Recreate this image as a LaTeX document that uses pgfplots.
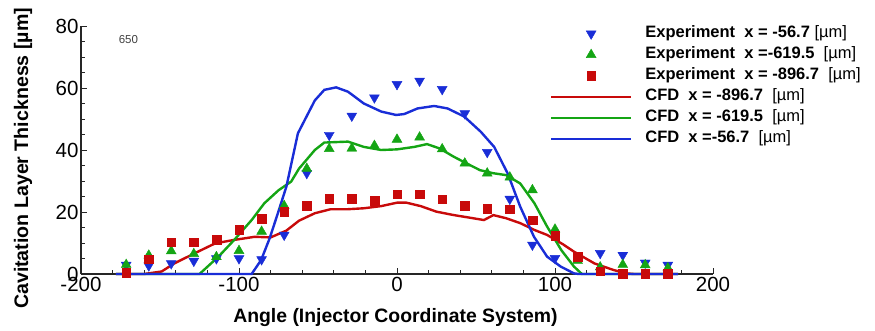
\documentclass[border=0pt]{standalone}
\usepackage{pgfplots}
\pgfplotsset{compat=1.18}
\usepackage{fontspec}
\setmainfont{Liberation Sans}
\definecolor{cblue}{RGB}{25,45,215}
\definecolor{cgreen}{RGB}{20,165,20}
\definecolor{cred}{RGB}{200,10,10}
\pgfplotsset{
 markleg/.style={legend image code/.code={\draw[mark repeat=2,mark phase=2,##1] plot coordinates {(0pt,0pt) (40pt,0pt) (80pt,0pt)};}},
 lineleg/.style={legend image code/.code={\draw[##1] (0pt,0pt) -- (80pt,0pt);}},
}
\begin{document}
\begin{tikzpicture}[x=1pt,y=1pt]
\path[use as bounding box] (0,0) rectangle (875,331);
\begin{axis}[
 at={(81pt,57pt)}, anchor=south west, scale only axis, width=632pt, height=248pt,
 xmin=-200, xmax=200, ymin=0, ymax=80,
 axis lines*=left, clip=false,
 axis line style={line width=1.2pt, black!85},
 xtick={-200,-100,0,100,200}, ytick={0,20,40,60,80},
 minor x tick num=4, minor y tick num=3,
 major tick length=6pt, minor tick length=4pt,
 every tick/.style={black!85, line width=0.9pt},
 tick label style={font=\fontsize{20.5}{21}\selectfont},
 yticklabel style={xshift=1pt},
 /pgf/number format/assume math mode=true,
 xlabel={Angle (Injector Coordinate System)},
 ylabel={Cavitation Layer Thickness [µm]},
 xlabel style={font=\bfseries\fontsize{19.4}{20}\selectfont, at={(axis description cs:0.4976,-0.175)}, anchor=center},
 ylabel style={font=\bfseries\fontsize{19.6}{20}\selectfont, at={(axis description cs:-0.0918,0.466)}, anchor=center},
 legend style={draw=none, fill=none, inner sep=0pt, outer sep=0pt,
   at={(axis cs:96.8,80)}, anchor=north west,
   font=\bfseries\fontsize{16.5}{18}\selectfont,
   row sep=5.5pt, column sep=13pt,
   nodes={inner sep=0pt, text height=12pt, text depth=3.5pt}},
 legend cell align=left,
]
\addplot[only marks, mark=triangle*, mark options={rotate=180}, mark size=5.7pt, color=cblue, markleg] coordinates {
(-171.4,2.9) (-157.1,2.7) (-142.9,3.4) (-128.6,4.2) (-114.3,5.0) (-100,5.0) (-85.7,4.7) (-71.4,12.6)
(-57.1,32.5) (-42.9,44.8) (-28.6,51.0) (-14.3,56.9) (0,61.2) (14.3,62.3) (28.6,59.6) (42.9,51.8)
(57.1,39.3) (71.4,24.2) (85.7,9.4) (100,5.1) (128.6,6.7) (142.9,6.1) (157.1,3.6) (171.4,2.9)};
\addlegendentry{Experiment\ \ x = -56.7 {\mdseries[µm]}}
\addplot[only marks, mark=triangle*, mark size=5.7pt, color=cgreen, markleg] coordinates {
(-171.4,3.0) (-157.1,6.0) (-142.9,7.4) (-128.6,6.5) (-114.3,5.5) (-100,7.5) (-85.7,13.7) (-71.4,22.0)
(-57.1,34.0) (-42.9,40.4) (-28.6,40.5) (-14.3,41.4) (0,43.4) (14.3,44.1) (28.6,40.3) (42.9,35.7)
(57.1,32.5) (71.4,31.2) (85.7,27.1) (100,14.4) (114.3,4.3) (128.6,2.2) (142.9,3.0) (157.1,2.9) (171.4,1.9)};
\addlegendentry{Experiment\ \ x =-619.5\ \ {\mdseries[µm]}}
\addplot[only marks, mark=square*, mark size=4.3pt, color=cred, markleg] coordinates {
(-171.4,0.5) (-157.1,4.8) (-142.9,10.3) (-128.6,10.3) (-114.3,11.0) (-100,14.2) (-85.7,17.8) (-71.4,20.1)
(-57.1,22.0) (-42.9,24.2) (-28.6,24.2) (-14.3,23.7) (0,25.7) (14.3,25.7) (28.6,24.1) (42.9,22.0)
(57.1,21.0) (71.4,20.9) (85.7,17.4) (100,12.3) (114.3,5.5) (128.6,0.9) (142.9,0) (157.1,0) (171.4,0)};
\addlegendentry{Experiment\ \ x = -896.7\ \ {\mdseries[µm]}}
\addplot[color=cred, line width=2.4pt, lineleg] coordinates {
(-178,0) (-160,0) (-149,0.8) (-141,3.4) (-128,6.7) (-115,9.9) (-103,11) (-90,12) (-80,11.8) (-70,14.0)
(-62,17.2) (-52,19.6) (-42,20.9) (-31,20.9) (-21,21.2) (-10,21.9) (0,23.0) (6,23.0) (15,21.9) (25,20.1)
(36,19.0) (48,18.0) (55,17.4) (61,19.0) (69,18.0) (78,16.4) (87,14.2) (95,12.6) (105,9.6) (112,7.2)
(125,3.4) (137,1.3) (145,0.2) (150,0) (178,0)};
\addlegendentry{CFD\ \ x = -896.7\ \ {\mdseries[µm]}}
\addplot[color=cgreen, line width=2.4pt, lineleg] coordinates {
(-178,0) (-125,0) (-113,5.6) (-103,11) (-92,17.4) (-84,22.8) (-75,27) (-67,29.8) (-62,34) (-52,40)
(-46,42.4) (-31,42.7) (-21,41) (-10,40) (0,40.2) (11,41) (19,41.9) (27,40.5) (36,37.8) (44,35.7)
(52.5,33.5) (61,32.5) (69,31.9) (78,29.2) (87,22.8) (95,15.3) (104,7.7) (112,2.4) (117,0) (178,0)};
\addlegendentry{CFD\ \ x = -619.5\ \ {\mdseries[µm]}}
\addplot[color=cblue, line width=2.4pt, lineleg] coordinates {
(-178,0) (-92,0) (-86,4.5) (-80.6,11.5) (-75.4,19.6) (-70,28.2) (-62.7,45.4) (-52,56) (-46,59.4) (-38.5,60.2)
(-31,58.8) (-21,55) (-10,52.4) (-0.6,51.3) (4.6,51.6) (13,53.4) (23.5,54.2) (32,53.4) (42.5,50.8) (53,45.9)
(61.5,41) (70,32.5) (78,21.7) (86.7,12) (95,5.6) (103.6,2.4) (112,0.2) (115,0) (178,0)};
\addlegendentry{CFD\ \ x =-56.7\ \ {\mdseries[µm]}}
\node[font=\fontsize{11.5}{12}\selectfont, text=black!75] at (axis cs:-170,75.5) {650};
\end{axis}
\end{tikzpicture}
\end{document}
